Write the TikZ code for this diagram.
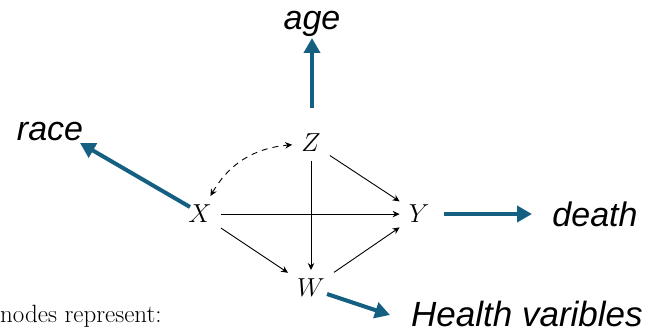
\RequirePackage{fix-cm}
\documentclass[tikz,border=0pt]{standalone}
\usepackage{fontspec}
\newfontfamily\labfont{Liberation Sans}
\usetikzlibrary{arrows.meta}
\definecolor{accent}{HTML}{156082}
\tikzset{
  var/.style={inner sep=9pt, anchor=base, font=\fontsize{26}{30}\selectfont},
  lab/.style={inner sep=0pt, font=\labfont\itshape\fontsize{34}{40}\selectfont},
  edge/.style={line width=0.9pt, -{Stealth[length=7pt,width=6.5pt]}},
  bluearrow/.style={line width=4pt, draw=accent, -{Triangle[length=15pt,width=16pt]}}
}
\begin{document}
\begin{tikzpicture}[x=1pt,y=1pt]
\useasboundingbox (0,0) rectangle (649,334);
\node[var] (Z) at (311,182) {$Z$};
\node[var] (X) at (200,111) {$X$};
\node[var] (Y) at (419,111) {$Y$};
\node[var] (W) at (311,37) {$W$};
\node[inner sep=0pt, anchor=base west, font=\fontsize{25}{30}\selectfont] (txt) at (0,11) {nodes represent:};
\draw[edge] (Z) -- (Y);
\draw[edge] (Z) -- (W);
\draw[edge] (X) -- (Y);
\draw[edge] (X) -- (W);
\draw[edge] (W) -- (Y);
\draw[line width=0.9pt, dash pattern=on 6pt off 5pt, {Stealth[length=7pt,width=6.5pt]}-{Stealth[length=7pt,width=6.5pt]}] (X) to[out=60,in=185] (Z);
\node[lab, anchor=base] (age) at (312,304) {age};
\node[lab, anchor=base] (race) at (50,193) {race};
\node[lab, anchor=base] (death) at (595,107) {death};
\node[lab, anchor=base west, font=\labfont\itshape\fontsize{35}{40}\selectfont] (health) at (411,7) {Health varibles};
\coordinate (a0) at (312,226); \coordinate (a1) at (312,296);
\coordinate (r0) at (190,127); \coordinate (r1) at (80,191);
\coordinate (d0) at (444,120); \coordinate (d1) at (532,120);
\coordinate (h0) at (327,40); \coordinate (h1) at (390,19);
\draw[bluearrow] (a0) -- (a1);
\draw[bluearrow] (r0) -- (r1);
\draw[bluearrow] (d0) -- (d1);
\draw[bluearrow] (h0) -- (h1);
\end{tikzpicture}
\end{document}
